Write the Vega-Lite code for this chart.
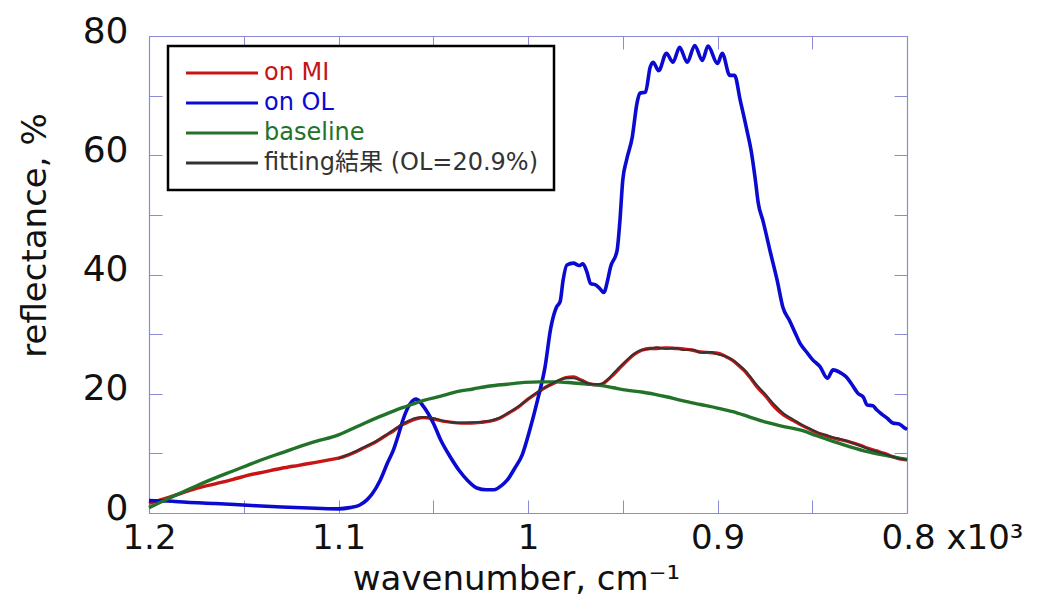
{
  "$schema": "https://vega.github.io/schema/vega-lite/v6.json",
  "width": 758,
  "height": 477,
  "autosize": "none",
  "padding": {"left": 149, "top": 36, "right": 131, "bottom": 91},
  "background": "white",
  "config": {
    "view": {"stroke": null},
    "font": "DejaVu Sans",
    "axis": {"domainColor": "#8a8ad8", "tickColor": "#8a8ad8", "grid": false, "labelColor": "#111111", "titleColor": "#111111", "titleFontWeight": "normal", "domainWidth": 1.2, "tickWidth": 1}
  },
  "data": {"values": [
    {"s":"MI","w":1200,"r":1.6},{"s":"MI","w":1190,"r":2.6},{"s":"MI","w":1183,"r":3.3},{"s":"MI","w":1174,"r":4.2},{"s":"MI","w":1165,"r":4.9},{"s":"MI","w":1156,"r":5.6},{"s":"MI","w":1148,"r":6.3},{"s":"MI","w":1139,"r":6.9},{"s":"MI","w":1130,"r":7.5},{"s":"MI","w":1121,"r":8.0},{"s":"MI","w":1112,"r":8.5},{"s":"MI","w":1105,"r":8.9},{"s":"MI","w":1100,"r":9.2},{"s":"MI","w":1095,"r":9.7},{"s":"MI","w":1090,"r":10.4},{"s":"MI","w":1085,"r":11.2},{"s":"MI","w":1080,"r":12.0},{"s":"MI","w":1075,"r":13.0},{"s":"MI","w":1071,"r":13.8},{"s":"MI","w":1067,"r":14.7},{"s":"MI","w":1063,"r":15.3},{"s":"MI","w":1059,"r":15.8},{"s":"MI","w":1055,"r":16.0},{"s":"MI","w":1050,"r":15.8},{"s":"MI","w":1045,"r":15.4},{"s":"MI","w":1040,"r":15.2},{"s":"MI","w":1035,"r":15.1},{"s":"MI","w":1030,"r":15.1},{"s":"MI","w":1025,"r":15.2},{"s":"MI","w":1020,"r":15.4},{"s":"MI","w":1015,"r":15.9},{"s":"MI","w":1010,"r":16.8},{"s":"MI","w":1005,"r":17.8},{"s":"MI","w":1000,"r":19.1},{"s":"MI","w":995,"r":20.2},{"s":"MI","w":990,"r":21.2},{"s":"MI","w":985,"r":22.0},{"s":"MI","w":980,"r":22.7},{"s":"MI","w":976,"r":22.8},{"s":"MI","w":972,"r":22.3},{"s":"MI","w":968,"r":21.7},{"s":"MI","w":964,"r":21.5},{"s":"MI","w":961,"r":21.6},{"s":"MI","w":958,"r":22.3},{"s":"MI","w":955,"r":23.2},{"s":"MI","w":951,"r":24.5},{"s":"MI","w":947,"r":25.8},{"s":"MI","w":944,"r":26.6},{"s":"MI","w":940,"r":27.3},{"s":"MI","w":936,"r":27.6},{"s":"MI","w":932,"r":27.6},{"s":"MI","w":927,"r":27.7},{"s":"MI","w":922,"r":27.6},{"s":"MI","w":918,"r":27.5},{"s":"MI","w":913,"r":27.3},{"s":"MI","w":909,"r":27.0},{"s":"MI","w":904,"r":26.9},{"s":"MI","w":900,"r":26.8},{"s":"MI","w":896,"r":26.3},{"s":"MI","w":892,"r":25.6},{"s":"MI","w":888,"r":24.5},{"s":"MI","w":885,"r":23.6},{"s":"MI","w":883,"r":22.8},{"s":"MI","w":879,"r":21.1},{"s":"MI","w":874,"r":19.4},{"s":"MI","w":870,"r":17.8},{"s":"MI","w":865,"r":16.4},{"s":"MI","w":860,"r":15.5},{"s":"MI","w":856,"r":14.8},{"s":"MI","w":851,"r":14.0},{"s":"MI","w":847,"r":13.4},{"s":"MI","w":843,"r":13.0},{"s":"MI","w":839,"r":12.6},{"s":"MI","w":835,"r":12.3},{"s":"MI","w":830,"r":11.9},{"s":"MI","w":825,"r":11.4},{"s":"MI","w":821,"r":10.9},{"s":"MI","w":816,"r":10.4},{"s":"MI","w":812,"r":10.0},{"s":"MI","w":808,"r":9.5},{"s":"MI","w":804,"r":9.1},{"s":"MI","w":800,"r":8.9},

    {"s":"OL","w":1200,"r":2.1},{"s":"OL","w":1190,"r":2.0},{"s":"OL","w":1180,"r":1.8},{"s":"OL","w":1165,"r":1.6},{"s":"OL","w":1148,"r":1.3},{"s":"OL","w":1130,"r":1.0},{"s":"OL","w":1112,"r":0.8},{"s":"OL","w":1100,"r":0.7},{"s":"OL","w":1094,"r":0.9},{"s":"OL","w":1089,"r":1.3},{"s":"OL","w":1085,"r":2.2},{"s":"OL","w":1082,"r":3.3},{"s":"OL","w":1078,"r":5.5},{"s":"OL","w":1074,"r":8.5},{"s":"OL","w":1071,"r":10.6},{"s":"OL","w":1068,"r":13.5},{"s":"OL","w":1066,"r":15.6},{"s":"OL","w":1062,"r":18.4},{"s":"OL","w":1059,"r":19.1},{"s":"OL","w":1055,"r":17.8},{"s":"OL","w":1050,"r":15.1},{"s":"OL","w":1046,"r":12.2},{"s":"OL","w":1041,"r":9.4},{"s":"OL","w":1036,"r":7.0},{"s":"OL","w":1032,"r":5.5},{"s":"OL","w":1027,"r":4.2},{"s":"OL","w":1022,"r":3.9},{"s":"OL","w":1018,"r":3.9},{"s":"OL","w":1014,"r":4.6},{"s":"OL","w":1011,"r":5.5},{"s":"OL","w":1007,"r":7.5},{"s":"OL","w":1003,"r":9.8},{"s":"OL","w":999,"r":14.0},{"s":"OL","w":995,"r":18.9},{"s":"OL","w":991,"r":24.5},{"s":"OL","w":988,"r":31.0},{"s":"OL","w":985,"r":34.5},{"s":"OL","w":983,"r":35.5},{"s":"OL","w":981.5,"r":39.0},{"s":"OL","w":979.5,"r":41.6},{"s":"OL","w":976,"r":41.9},{"s":"OL","w":973,"r":41.5},{"s":"OL","w":971,"r":41.8},{"s":"OL","w":969,"r":40.5},{"s":"OL","w":967,"r":38.5},{"s":"OL","w":964,"r":38.2},{"s":"OL","w":962,"r":37.6},{"s":"OL","w":960,"r":37.0},{"s":"OL","w":958,"r":39.0},{"s":"OL","w":956.5,"r":41.2},{"s":"OL","w":953,"r":44.0},{"s":"OL","w":951.5,"r":49.0},{"s":"OL","w":950,"r":55.8},{"s":"OL","w":948,"r":59.2},{"s":"OL","w":945,"r":63.0},{"s":"OL","w":942.5,"r":68.7},{"s":"OL","w":941,"r":70.4},{"s":"OL","w":938,"r":70.6},{"s":"OL","w":935.5,"r":74.8},{"s":"OL","w":934,"r":75.6},{"s":"OL","w":931,"r":74.2},{"s":"OL","w":927,"r":77.1},{"s":"OL","w":923.5,"r":75.6},{"s":"OL","w":920,"r":78.1},{"s":"OL","w":916,"r":75.6},{"s":"OL","w":912,"r":78.4},{"s":"OL","w":908,"r":75.9},{"s":"OL","w":905,"r":78.3},{"s":"OL","w":900,"r":75.4},{"s":"OL","w":897.5,"r":77.1},{"s":"OL","w":893.5,"r":73.4},{"s":"OL","w":891,"r":73.4},{"s":"OL","w":888,"r":69.2},{"s":"OL","w":884.5,"r":64.2},{"s":"OL","w":882,"r":60.3},{"s":"OL","w":880,"r":55.8},{"s":"OL","w":878.5,"r":52.0},{"s":"OL","w":876,"r":49.0},{"s":"OL","w":872,"r":43.6},{"s":"OL","w":868.5,"r":39.0},{"s":"OL","w":865.5,"r":34.5},{"s":"OL","w":862,"r":32.3},{"s":"OL","w":859,"r":30.2},{"s":"OL","w":856.5,"r":28.5},{"s":"OL","w":853,"r":27.0},{"s":"OL","w":849.5,"r":25.6},{"s":"OL","w":846,"r":24.6},{"s":"OL","w":842,"r":22.6},{"s":"OL","w":839,"r":24.0},{"s":"OL","w":835,"r":23.5},{"s":"OL","w":832,"r":22.8},{"s":"OL","w":829,"r":21.5},{"s":"OL","w":826,"r":20.1},{"s":"OL","w":823,"r":19.4},{"s":"OL","w":821,"r":18.1},{"s":"OL","w":818,"r":18.0},{"s":"OL","w":816,"r":17.3},{"s":"OL","w":813,"r":16.5},{"s":"OL","w":810.5,"r":15.9},{"s":"OL","w":807.5,"r":15.1},{"s":"OL","w":804,"r":14.9},{"s":"OL","w":801,"r":14.2},{"s":"OL","w":800,"r":14.0},

    {"s":"BL","w":1200,"r":0.9},{"s":"BL","w":1190,"r":2.4},{"s":"BL","w":1183,"r":3.4},{"s":"BL","w":1174,"r":4.7},{"s":"BL","w":1165,"r":5.9},{"s":"BL","w":1156,"r":7.0},{"s":"BL","w":1148,"r":8.0},{"s":"BL","w":1139,"r":9.1},{"s":"BL","w":1130,"r":10.1},{"s":"BL","w":1121,"r":11.1},{"s":"BL","w":1112,"r":12.0},{"s":"BL","w":1100,"r":13.1},{"s":"BL","w":1095,"r":13.8},{"s":"BL","w":1086,"r":15.1},{"s":"BL","w":1078,"r":16.2},{"s":"BL","w":1071,"r":17.1},{"s":"BL","w":1064,"r":17.9},{"s":"BL","w":1055,"r":18.9},{"s":"BL","w":1046,"r":19.6},{"s":"BL","w":1038,"r":20.3},{"s":"BL","w":1029,"r":20.8},{"s":"BL","w":1020,"r":21.3},{"s":"BL","w":1011,"r":21.6},{"s":"BL","w":1002,"r":21.9},{"s":"BL","w":994,"r":22.0},{"s":"BL","w":985,"r":22.0},{"s":"BL","w":976,"r":21.8},{"s":"BL","w":968,"r":21.6},{"s":"BL","w":962,"r":21.4},{"s":"BL","w":955,"r":21.0},{"s":"BL","w":948,"r":20.6},{"s":"BL","w":940,"r":20.3},{"s":"BL","w":933,"r":19.9},{"s":"BL","w":927,"r":19.5},{"s":"BL","w":918,"r":18.8},{"s":"BL","w":909,"r":18.2},{"s":"BL","w":900,"r":17.6},{"s":"BL","w":892,"r":17.0},{"s":"BL","w":883,"r":16.1},{"s":"BL","w":874,"r":15.2},{"s":"BL","w":865,"r":14.5},{"s":"BL","w":856,"r":13.9},{"s":"BL","w":848,"r":13.0},{"s":"BL","w":839,"r":12.0},{"s":"BL","w":830,"r":11.1},{"s":"BL","w":821,"r":10.3},{"s":"BL","w":812,"r":9.7},{"s":"BL","w":804,"r":9.2},{"s":"BL","w":800,"r":9.0},

    {"s":"FIT","w":1100,"r":9.1},{"s":"FIT","w":1095,"r":9.8},{"s":"FIT","w":1090,"r":10.5},{"s":"FIT","w":1085,"r":11.3},{"s":"FIT","w":1080,"r":12.1},{"s":"FIT","w":1075,"r":13.1},{"s":"FIT","w":1071,"r":13.9},{"s":"FIT","w":1067,"r":14.8},{"s":"FIT","w":1063,"r":15.5},{"s":"FIT","w":1059,"r":16.0},{"s":"FIT","w":1055,"r":16.1},{"s":"FIT","w":1050,"r":15.9},{"s":"FIT","w":1045,"r":15.5},{"s":"FIT","w":1040,"r":15.2},{"s":"FIT","w":1035,"r":15.1},{"s":"FIT","w":1030,"r":15.2},{"s":"FIT","w":1025,"r":15.3},{"s":"FIT","w":1020,"r":15.5},{"s":"FIT","w":1015,"r":16.0},{"s":"FIT","w":1010,"r":16.9},{"s":"FIT","w":1005,"r":17.9},{"s":"FIT","w":1000,"r":19.1},{"s":"FIT","w":995,"r":20.3},{"s":"FIT","w":990,"r":21.2},{"s":"FIT","w":985,"r":22.1},{"s":"FIT","w":980,"r":22.6},{"s":"FIT","w":976,"r":22.6},{"s":"FIT","w":972,"r":22.2},{"s":"FIT","w":968,"r":21.7},{"s":"FIT","w":964,"r":21.6},{"s":"FIT","w":961,"r":21.7},{"s":"FIT","w":958,"r":22.4},{"s":"FIT","w":955,"r":23.4},{"s":"FIT","w":951,"r":24.7},{"s":"FIT","w":947,"r":25.9},{"s":"FIT","w":944,"r":26.7},{"s":"FIT","w":940,"r":27.4},{"s":"FIT","w":936,"r":27.5},{"s":"FIT","w":932,"r":27.8},{"s":"FIT","w":927,"r":27.5},{"s":"FIT","w":922,"r":27.7},{"s":"FIT","w":918,"r":27.3},{"s":"FIT","w":913,"r":27.4},{"s":"FIT","w":909,"r":26.9},{"s":"FIT","w":904,"r":27.0},{"s":"FIT","w":900,"r":26.6},{"s":"FIT","w":896,"r":26.3},{"s":"FIT","w":892,"r":25.7},{"s":"FIT","w":888,"r":24.7},{"s":"FIT","w":885,"r":23.8},{"s":"FIT","w":883,"r":23.0},{"s":"FIT","w":879,"r":21.4},{"s":"FIT","w":874,"r":19.7},{"s":"FIT","w":870,"r":18.2},{"s":"FIT","w":865,"r":16.7},{"s":"FIT","w":860,"r":15.7},{"s":"FIT","w":856,"r":14.9},{"s":"FIT","w":851,"r":14.1},{"s":"FIT","w":847,"r":13.5},{"s":"FIT","w":843,"r":13.1},{"s":"FIT","w":839,"r":12.7},{"s":"FIT","w":835,"r":12.4},{"s":"FIT","w":830,"r":11.9},{"s":"FIT","w":825,"r":11.3},{"s":"FIT","w":821,"r":10.8},{"s":"FIT","w":816,"r":10.3},{"s":"FIT","w":812,"r":9.9},{"s":"FIT","w":808,"r":9.5},{"s":"FIT","w":804,"r":9.1},{"s":"FIT","w":800,"r":8.9}
  ]},
  "resolve": {"axis": {"x": "independent", "y": "independent"}},
  "layer": [
    {
      "transform": [{"filter": "datum.s == 'MI'"}],
      "mark": {"type": "line", "strokeWidth": 3.4, "interpolate": "monotone"},
      "encoding": {
        "x": {"field": "w", "type": "quantitative",
          "scale": {"domain": [800, 1200], "reverse": true, "nice": false, "zero": false},
          "axis": {"orient": "bottom", "values": [800,850,900,950,1000,1050,1100,1150,1200], "tickSize": -13,
            "labelExpr": "datum.value % 100 == 0 ? (datum.value == 800 ? '0.8 x10³' : '' + datum.value / 1000) : ''",
            "labelFontSize": 34, "labelPadding": 21, "labelFlush": false, "labelOverlap": false, "labelBaseline": "top",
            "labelOffset": {"condition": {"test": "datum.value == 800", "value": 45}, "value": 0},
            "title": "wavenumber, cm⁻¹", "titleFontSize": 34, "titleX": 367, "titleY": 76, "titleBaseline": "alphabetic", "titleAlign": "center"}},
        "y": {"field": "r", "type": "quantitative",
          "scale": {"domain": [0, 80], "nice": false},
          "axis": {"orient": "left", "values": [0,10,20,30,40,50,60,70,80], "tickSize": -13,
            "labelExpr": "datum.value % 20 == 0 ? datum.label : ''",
            "labelFontSize": 36, "labelPadding": 34, "labelFlush": false, "labelOverlap": false, "labelOffset": -5,
            "title": "reflectance, %", "titleFontSize": 34, "titleX": -114, "titleY": 199, "titleAngle": -90, "titleBaseline": "middle", "titleAlign": "center"}},
        "color": {"field": "s", "type": "nominal",
          "scale": {"domain": ["MI", "OL", "BL", "FIT"], "range": ["#c81414", "#0a0ad0", "#22722a", "#333333"]},
          "legend": {"orient": "none", "legendX": 19, "legendY": 10, "title": null,
            "symbolType": "M-1,0H7", "symbolSize": 324, "symbolStrokeWidth": 3,
            "labelFontSize": 24, "labelFont": "DejaVu Sans, Noto Sans CJK JP", "labelOffset": 57, "labelLimit": 400,
            "rowPadding": 6, "padding": 15, "strokeColor": "#000000", "fillColor": "#ffffff",
            "labelExpr": "datum.value == 'MI' ? 'on MI' : datum.value == 'OL' ? 'on OL' : datum.value == 'BL' ? 'baseline' : 'fitting結果 (OL=20.9%)'",
            "encode": {"labels": {"update": {"fill": {"scale": "color", "field": "value"}}}, "legend": {"update": {"strokeWidth": {"value": 2.5}}}}}}
      }
    },
    {
      "transform": [{"filter": "datum.s == 'OL'"}],
      "mark": {"type": "line", "strokeWidth": 3.6, "interpolate": "monotone"},
      "encoding": {
        "x": {"field": "w", "type": "quantitative", "axis": null},
        "y": {"field": "r", "type": "quantitative", "axis": null},
        "color": {"field": "s", "type": "nominal"}
      }
    },
    {
      "transform": [{"filter": "datum.s == 'BL'"}],
      "mark": {"type": "line", "strokeWidth": 3.4, "interpolate": "monotone"},
      "encoding": {
        "x": {"field": "w", "type": "quantitative", "axis": null},
        "y": {"field": "r", "type": "quantitative", "axis": null},
        "color": {"field": "s", "type": "nominal"}
      }
    },
    {
      "transform": [{"filter": "datum.s == 'FIT'"}],
      "mark": {"type": "line", "strokeWidth": 1.8, "interpolate": "monotone"},
      "encoding": {
        "x": {"field": "w", "type": "quantitative",
          "axis": {"orient": "top", "values": [800,850,900,950,1000,1050,1100,1150,1200], "tickSize": -13, "labels": false, "title": null}},
        "y": {"field": "r", "type": "quantitative",
          "axis": {"orient": "right", "values": [0,10,20,30,40,50,60,70,80], "tickSize": -13, "labels": false, "title": null}},
        "color": {"field": "s", "type": "nominal"}
      }
    }
  ]
}
